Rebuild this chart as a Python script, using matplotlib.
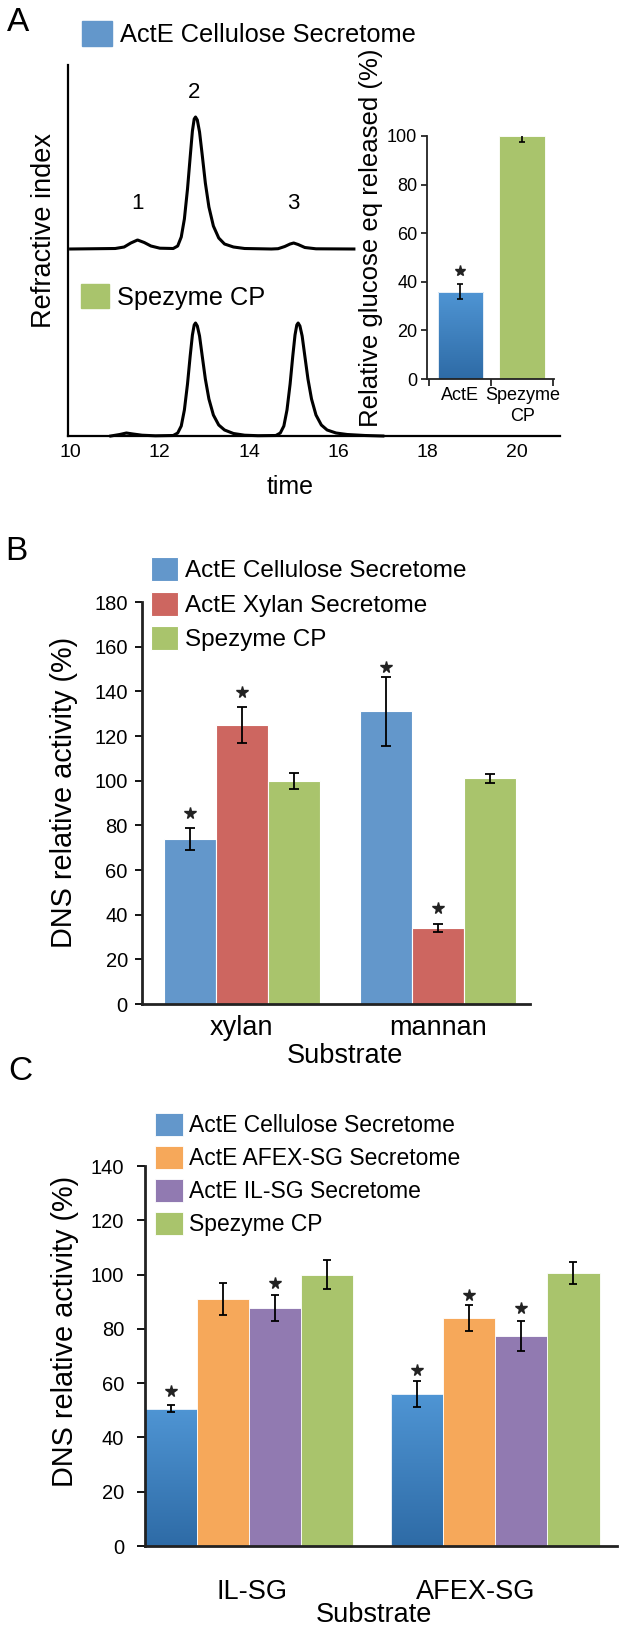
import matplotlib.pyplot as plt
import numpy as np
from matplotlib.colors import LinearSegmentedColormap
from matplotlib.patches import Patch
from matplotlib.transforms import ScaledTranslation

plt.rcParams["font.family"] = ["Liberation Sans", "DejaVu Sans"]

# ---------------- data ----------------
# panel A: chromatograms (time in min, signal in arbitrary units)
cell_time = [10.0, 10.6, 11.0, 11.2, 11.35, 11.5, 11.65, 11.8, 12.0, 12.3, 12.4, 12.48,
             12.55, 12.62, 12.68, 12.73, 12.77, 12.8, 12.84, 12.89, 12.95, 13.02, 13.1,
             13.2, 13.32, 13.45, 13.65, 13.9, 14.5, 14.65, 14.8, 14.92, 15.0, 15.1,
             15.25, 15.5, 16.35]
cell_signal = [0, 0.3, 0.5, 2, 6, 9, 6.5, 3, 0.8, 0.5, 3, 12,
               30, 60, 92, 118, 130, 132, 129, 117, 94, 66, 42,
               23, 11, 5, 2, 0.5, 0, 0.3, 2.5, 5, 6, 4.5,
               1.5, 0.2, 0]

spez_time = [10.9, 11.1, 11.25, 11.4, 11.6, 11.9, 12.3, 12.4, 12.48, 12.55, 12.62, 12.68,
             12.73, 12.77, 12.8, 12.84, 12.89, 12.95, 13.02, 13.1, 13.2, 13.32, 13.45,
             13.65, 13.9, 14.2, 14.6, 14.7, 14.78, 14.85, 14.92, 14.98, 15.03, 15.07,
             15.1, 15.14, 15.19, 15.25, 15.32, 15.4, 15.5, 15.62, 15.75, 15.95, 16.2,
             16.6, 17.0]
spez_signal = [0, 1.5, 3, 2, 0.8, 0.2, 0.5, 3, 10, 26, 52, 80,
               101, 111, 113, 110, 100, 80, 57, 37, 21, 11, 6,
               2.5, 0.8, 0.3, 0.5, 3, 10, 26, 52, 80, 101, 111,
               113, 110, 100, 80, 57, 37, 21, 11, 6, 3, 1.5,
               0.5, 0]
peak_times = [11.5, 12.77, 15.0]
peak_labels = ["1", "2", "3"]

# panel A inset
inset_names = ["ActE", "Spezyme\nCP"]
inset_vals = [36, 100]
inset_err = [3, 2.5]
inset_star = [44.5, np.nan]

# panel B
b_substrates = ["xylan", "mannan"]
b_series = ["ActE Cellulose Secretome", "ActE Xylan Secretome", "Spezyme CP"]
b_vals = [[74, 131], [125, 34], [100, 101]]
b_err = [[5, 15.5], [8, 1.6], [3.6, 2]]
b_star = [[85.5, 151], [139.5, 43], [np.nan, np.nan]]

# panel C
c_substrates = ["IL-SG", "AFEX-SG"]
c_series = ["ActE Cellulose Secretome", "ActE AFEX-SG Secretome",
            "ActE IL-SG Secretome", "Spezyme CP"]
c_vals = [[50.5, 56], [91, 84], [87.7, 77.4], [100, 100.5]]
c_err = [[1.3, 4.8], [6, 4.8], [4.8, 5.5], [5.2, 4]]
c_star = [[57, 65], [np.nan, 92.5], [97, 87.7], [np.nan, np.nan]]

BLUE = "#6397CB"
BLUE_TOP, BLUE_BOT = "#4F95D4", "#2E6BA6"
RED = "#CD6660"
GREEN = "#A9C46C"
ORANGE = "#F6A85A"
PURPLE = "#917AB1"

W, H = 620, 1636


def box(l, t, r, b):
    return [l / W, 1 - b / H, (r - l) / W, (b - t) / H]


def fx(x):
    return x / W


def fy(y):
    return 1 - y / H


def gradient_bar(ax, bar, top, bottom):
    x0, y0 = bar.get_xy()
    cmap = LinearSegmentedColormap.from_list("g", [bottom, top])
    grad = np.linspace(0, 1, 256).reshape(-1, 1)
    im = ax.imshow(grad, extent=(x0, x0 + bar.get_width(), y0, y0 + bar.get_height()),
                   origin="lower", cmap=cmap, aspect="auto", zorder=0.9)
    im.set_clip_path(bar)
    bar.set_facecolor("none")


def style_bar_axes(ax, lw):
    for s in ["top", "right"]:
        ax.spines[s].set_visible(False)
    ax.spines["left"].set_linewidth(lw)
    ax.spines["bottom"].set_linewidth(lw)
    ax.spines["left"].set_color("#222222")
    ax.spines["bottom"].set_color("#222222")


fig = plt.figure(figsize=(6.2, 16.36), dpi=100)

# ---------------- panel A ----------------
upper_offset = 187
ax = fig.add_axes(box(67.5, 65, 560, 436))
ax.plot(cell_time, np.array(cell_signal) + upper_offset, color="black", lw=2.2)
ax.plot(spez_time, spez_signal, color="black", lw=2.2, clip_on=False)
for t, lab, h in zip(peak_times, peak_labels, [45, 156, 45]):
    ax.text(t, upper_offset + h, lab, ha="center", va="center", fontsize=16)
ax.set_xlim(9.93, 20.97)
ax.set_ylim(0, 371)
for s in ["top", "right"]:
    ax.spines[s].set_visible(False)
ax.spines["left"].set_linewidth(1.6)
ax.spines["bottom"].set_linewidth(1.6)
ax.set_yticks([])
ax.set_xticks(range(10, 21, 2))
ax.tick_params(axis="x", length=0, labelsize=14, pad=6)
ax.set_ylabel("Refractive index", fontsize=19.5, va="center")
ax.yaxis.set_label_coords((44 - 67.5) / 492.5, (436 - 231) / 371)
ax.set_xlabel("time", fontsize=18, va="center")
ax.xaxis.set_label_coords((290 - 67.5) / 492.5, (436 - 487) / 371)

fig.legend(handles=[Patch(color=BLUE)], labels=["ActE Cellulose Secretome"],
           loc="upper left", bbox_to_anchor=(fx(82), fy(21)), frameon=False,
           fontsize=18.3, handlelength=1.18, handleheight=1.15, handletextpad=0.3,
           borderpad=0, borderaxespad=0)
fig.legend(handles=[Patch(color=GREEN)], labels=["Spezyme CP"],
           loc="upper left", bbox_to_anchor=(fx(81), fy(284)), frameon=False,
           fontsize=18.3, handlelength=1.1, handleheight=1.1, handletextpad=0.3,
           borderpad=0, borderaxespad=0)

# inset
axi = fig.add_axes(box(427, 136, 554, 379))
xi = np.arange(len(inset_vals))
bars = axi.bar(xi, inset_vals, width=0.74, color=[BLUE, GREEN], edgecolor="white",
               linewidth=0.6, yerr=inset_err,
               error_kw=dict(ecolor="black", elinewidth=1.2, capsize=2.3, capthick=1.2))
gradient_bar(axi, bars[0], BLUE_TOP, BLUE_BOT)
axi.plot(xi, inset_star, ls="none", marker="*", ms=8, color="#222222")
axi.set_xlim(-0.54, 1.51)
axi.set_ylim(0, 100)
style_bar_axes(axi, 1.3)
axi.set_yticks(range(0, 101, 20))
axi.tick_params(axis="y", length=4, width=1.1, labelsize=13, pad=3)
axi.set_xticks(xi)
axi.set_xticklabels(inset_names, fontsize=13, linespacing=1.25)
axi.tick_params(axis="x", length=0, pad=6)
axi.set_xticks([-0.5, 0.5, 1.5], minor=True)
axi.tick_params(axis="x", which="minor", length=5, width=1.1)
axi.set_ylabel("Relative glucose eq released (%)", fontsize=18.5, va="center")
axi.yaxis.set_label_coords((371 - 427) / 127, (379 - 238) / 243)

fig.text(fx(18.5), fy(22.5), "A", fontsize=24, ha="center", va="center")

# ---------------- panel B ----------------
axb = fig.add_axes(box(141.7, 602, 530, 1004))
xb = np.arange(len(b_substrates))
wb = 0.265
b_colors = [BLUE, RED, GREEN]
b_handles = []
for i, (name, col) in enumerate(zip(b_series, b_colors)):
    pos = xb + (i - 1) * wb
    cont = axb.bar(pos, b_vals[i], width=wb, color=col, edgecolor="white", linewidth=0.8,
                   yerr=b_err[i],
                   error_kw=dict(ecolor="black", elinewidth=1.3, capsize=3.3, capthick=1.3),
                   label=name)
    axb.plot(pos, b_star[i], ls="none", marker="*", ms=8.5, color="#222222")
    b_handles.append(cont)
axb.set_xlim(-0.51, 1.47)
axb.set_ylim(0, 180)
style_bar_axes(axb, 2)
axb.set_yticks(range(0, 181, 20))
axb.tick_params(axis="y", length=5, width=1.3, labelsize=14.5, pad=5)
axb.set_xticks(xb)
axb.set_xticklabels(b_substrates, fontsize=19.5)
axb.tick_params(axis="x", length=0, pad=8)
axb.set_ylabel("DNS relative activity (%)", fontsize=20.8, va="center")
axb.yaxis.set_label_coords((64.5 - 141.7) / 388.3, (1004 - 792) / 402)
axb.set_xlabel("Substrate", fontsize=19.5, va="center")
axb.xaxis.set_label_coords((344.5 - 141.7) / 388.3, (1004 - 1056) / 402)
fig.legend(handles=b_handles, labels=b_series, loc="upper left",
           bbox_to_anchor=(fx(151), fy(557)), frameon=False, fontsize=17.5,
           handlelength=1.1, handleheight=1.15, handletextpad=0.3, labelspacing=0.38,
           borderpad=0, borderaxespad=0)
fig.text(fx(16.5), fy(552), "B", fontsize=24, ha="center", va="center")

# ---------------- panel C ----------------
axc = fig.add_axes(box(145, 1166, 617, 1546))
xc = np.arange(len(c_substrates))
wc = 0.211
c_colors = [BLUE, ORANGE, PURPLE, GREEN]
c_bars = []
for i, (name, col) in enumerate(zip(c_series, c_colors)):
    pos = xc + (i - 1.5) * wc
    cont = axc.bar(pos, c_vals[i], width=wc, color=col, edgecolor="white", linewidth=0.6,
                   yerr=c_err[i],
                   error_kw=dict(ecolor="black", elinewidth=1.3, capsize=2.9, capthick=1.3),
                   label=name)
    axc.plot(pos, c_star[i], ls="none", marker="*", ms=8.5, color="#222222")
    c_bars.append(cont)
fig.legend(handles=c_bars, labels=c_series, loc="upper left",
           bbox_to_anchor=(fx(155), fy(1113)), frameon=False, fontsize=16.5,
           handlelength=1.2, handleheight=1.2, handletextpad=0.3, labelspacing=0.37,
           borderpad=0, borderaxespad=0)
for bar in c_bars[0]:
    gradient_bar(axc, bar, BLUE_TOP, BLUE_BOT)
axc.set_xlim(-0.422, 1.493)
axc.set_ylim(0, 140)
style_bar_axes(axc, 2)
axc.set_yticks(range(0, 141, 20))
axc.tick_params(axis="y", length=6, width=1.3, labelsize=14.5, pad=9)
axc.set_xticks(xc)
axc.set_xticklabels(c_substrates, fontsize=19.5)
axc.tick_params(axis="x", length=0, pad=24)
# the long category label sits a little left of its group, as in the original
for lab, dx in zip(axc.get_xticklabels(), [3, -20]):
    lab.set_transform(lab.get_transform() + ScaledTranslation(dx / 100, 0, fig.dpi_scale_trans))
axc.set_ylabel("DNS relative activity (%)", fontsize=20.8, va="center")
axc.yaxis.set_label_coords((65 - 145) / 472, (1546 - 1331) / 380)
axc.set_xlabel("Substrate", fontsize=19.5, va="center")
axc.xaxis.set_label_coords((374 - 145) / 472, (1546 - 1615) / 380)
fig.text(fx(20), fy(1072), "C", fontsize=24, ha="center", va="center")

fig.savefig("out.png", dpi=100)
